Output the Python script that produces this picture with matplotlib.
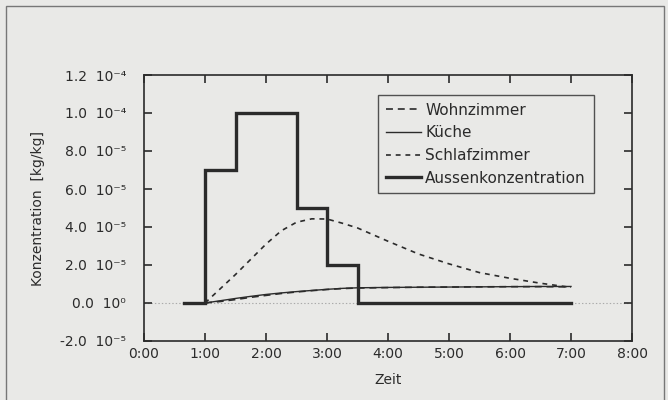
import matplotlib
matplotlib.use("Agg")
import matplotlib.pyplot as plt
from matplotlib.patches import Rectangle

plt.rcParams['font.family'] = ['DejaVu Sans']
plt.rcParams['lines.scale_dashes'] = False

# Außenkonzentration (step function), hours / kg/kg
aussen_t = [0.65, 1.0, 1.0, 1.5, 1.5, 2.5, 2.5, 3.0, 3.0, 3.5, 3.5, 7.0]
aussen_v = [0.0, 0.0, 7e-5, 7e-5, 1e-4, 1e-4, 5e-5, 5e-5, 2e-5, 2e-5, 0.0, 0.0]

room_t = [1.0, 1.25, 1.5, 1.75, 2.0, 2.25, 2.5, 2.75, 3.0, 3.25, 3.5, 4.0, 4.5, 5.0, 5.5, 6.0, 6.5, 7.0]
kueche_v = [0, 0.12, 0.24, 0.35, 0.45, 0.53, 0.60, 0.66, 0.72, 0.77, 0.80, 0.82, 0.83, 0.84, 0.85, 0.86, 0.87, 0.87]
wohn_v = [0, 0.08, 0.18, 0.30, 0.40, 0.50, 0.58, 0.65, 0.71, 0.76, 0.79, 0.81, 0.83, 0.84, 0.85, 0.86, 0.86, 0.85]

schlaf_t = [1.0, 1.25, 1.5, 1.75, 2.0, 2.25, 2.5, 2.75, 3.0, 3.25, 3.5, 3.75, 4.0, 4.5, 5.0, 5.5, 6.0, 6.5, 7.0]
schlaf_v = [0, 0.75, 1.5, 2.3, 3.1, 3.8, 4.25, 4.43, 4.42, 4.2, 3.95, 3.6, 3.25, 2.58, 2.06, 1.6, 1.3, 1.04, 0.82]

xticks = [0, 1, 2, 3, 4, 5, 6, 7, 8]
xticklabels = ["0:00", "1:00", "2:00", "3:00", "4:00", "5:00", "6:00", "7:00", "8:00"]
yticks = [-2e-5, 0, 2e-5, 4e-5, 6e-5, 8e-5, 1e-4, 1.2e-4]
yticklabels = ["-2.0  10⁻⁵", "0.0  10⁰", "2.0  10⁻⁵", "4.0  10⁻⁵", "6.0  10⁻⁵",
               "8.0  10⁻⁵", "1.0  10⁻⁴", "1.2  10⁻⁴"]

bg = "#e9e9e7"
ink = "#2b2b2b"

fig = plt.figure(figsize=(6.68, 4.0), dpi=100, facecolor=bg)
ax = fig.add_axes([144/668, 1 - 341/400, (632-144)/668, (341-75)/400])
ax.set_facecolor(bg)

# outer frame
fig.patches.append(Rectangle((6/668, -0.1), (664-6)/668, 1.1 - 6/400,
                             transform=fig.transFigure, fill=False,
                             edgecolor="#777777", linewidth=1.0))

ax.axhline(0, color="#aaaaaa", linestyle=(0, (1, 1.5)), linewidth=0.8, zorder=1)

s = 1e-5
ax.plot(room_t, [v*s for v in wohn_v], color=ink, linewidth=1.2,
        dashes=(5, 3.5), label="Wohnzimmer", zorder=3)
ax.plot(room_t, [v*s for v in kueche_v], color=ink, linewidth=1.0,
        label="Küche", zorder=3)
ax.plot(schlaf_t, [v*s for v in schlaf_v], color=ink, linewidth=1.2,
        dashes=(3.5, 3.5), label="Schlafzimmer", zorder=3)
ax.plot(aussen_t, aussen_v, color=ink, linewidth=2.4, label="Aussenkonzentration",
        solid_joinstyle="miter", zorder=4)

ax.set_xlim(0, 8)
ax.set_ylim(-2e-5, 1.2e-4)
ax.set_xticks(xticks)
ax.set_xticklabels(xticklabels)
ax.set_yticks(yticks)
ax.set_yticklabels(yticklabels)
ax.tick_params(direction="in", length=6, width=1.2, color=ink, labelcolor=ink,
               labelsize=10, top=True, right=True, pad=4)
ax.tick_params(axis="y", pad=13)
for sp in ax.spines.values():
    sp.set_color(ink)
    sp.set_linewidth(1.2)

ax.set_xlabel("Zeit", fontsize=10, color=ink, labelpad=9)
ax.set_ylabel("Konzentration  [kg/kg]", fontsize=10, color=ink, labelpad=11)

leg = ax.legend(loc="upper left", bbox_to_anchor=((378-144)/488, (341-95)/266),
                frameon=True, fancybox=False, fontsize=11, handlelength=2.3,
                handletextpad=0.3, labelspacing=0.5, borderpad=0.5,
                borderaxespad=0)
leg.get_frame().set_edgecolor(ink)
leg.get_frame().set_facecolor(bg)
leg.get_frame().set_linewidth(1.0)
for t in leg.get_texts():
    t.set_color(ink)

fig.savefig("out.png", dpi=100, facecolor=bg)
